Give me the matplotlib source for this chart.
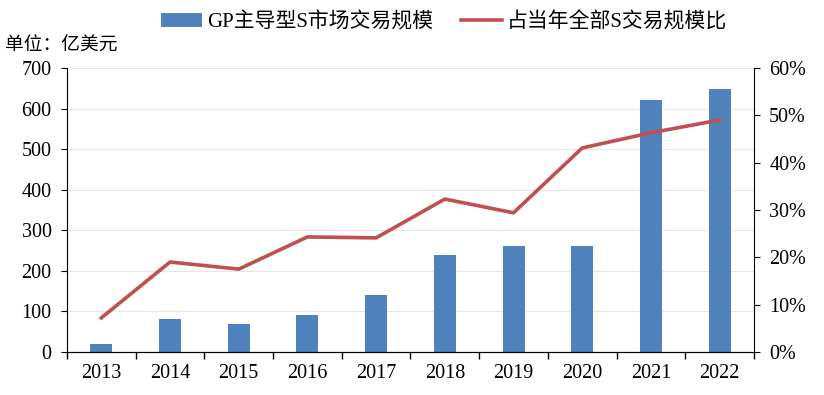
import numpy as np
import matplotlib.pyplot as plt
from matplotlib.ticker import FuncFormatter, FixedLocator

plt.rcParams['font.family'] = ['Liberation Serif', 'Noto Sans CJK SC']

# data
years = ["2013", "2014", "2015", "2016", "2017", "2018", "2019", "2020", "2021", "2022"]
gp_volume = [20, 80, 70, 90, 140, 240, 260, 260, 620, 648]   # 亿美元
gp_share = [7.2, 19.0, 17.5, 24.3, 24.1, 32.3, 29.4, 43.1, 46.3, 49.0]  # %

bar_color = "#4F81BD"
line_color = "#C0504D"

fig = plt.figure(figsize=(8.24, 3.95), dpi=100)
ax = fig.add_axes([0.0813, 0.109, 0.8337, 0.719])
x = np.arange(len(years))

ax.bar(x, gp_volume, width=0.32, color=bar_color, zorder=2,
       label="GP主导型S市场交易规模")
ax.set_xlim(-0.5, len(years) - 0.5)
ax.set_ylim(0, 700)
ax.set_yticks(range(0, 701, 100))
ax.grid(axis="y", color="#E6E6E6", linewidth=0.8, zorder=0)
ax.set_axisbelow(True)

ax.set_xticks(x)
ax.set_xticklabels(years)
ax.xaxis.set_minor_locator(FixedLocator(np.arange(-0.5, len(years), 1)))
ax.tick_params(axis="x", which="major", length=0, pad=9, labelsize=14.5)
ax.tick_params(axis="x", which="minor", length=5, direction="out", width=1)
ax.tick_params(axis="y", length=4, direction="out", labelsize=14.5, pad=7)
ax.spines["top"].set_visible(False)
ax.spines["right"].set_visible(False)

ax2 = ax.twinx()
ax2.plot(x, gp_share, color=line_color, linewidth=2.6, zorder=3,
         label="占当年全部S交易规模比")
ax2.set_ylim(0, 60)
ax2.set_yticks(range(0, 61, 10))
ax2.yaxis.set_major_formatter(FuncFormatter(lambda v, p: f"{v:.0f}%"))
ax2.tick_params(axis="y", length=4, direction="out", labelsize=14.5, pad=7)
ax2.spines["top"].set_visible(False)
ax2.spines["left"].set_visible(False)

h1, l1 = ax.get_legend_handles_labels()
h2, l2 = ax2.get_legend_handles_labels()
fig.legend(h1 + h2, l1 + l2, loc="center", bbox_to_anchor=(0.539, 0.944),
           ncol=2, frameon=False, fontsize=15, handlelength=1.95,
           handletextpad=0.25, columnspacing=1.35)

fig.text(0.006, 0.882, "单位：亿美元", fontsize=13.5, ha="left", va="center")

fig.savefig("out.png", dpi=100)
